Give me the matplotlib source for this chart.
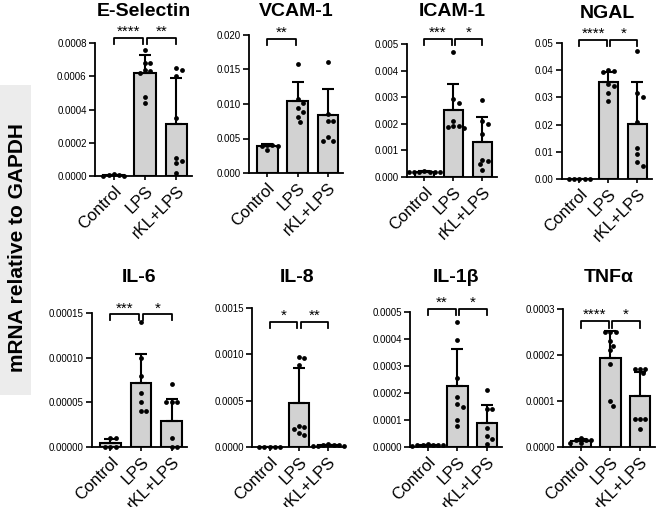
import numpy as np
import matplotlib
matplotlib.use('Agg')
import matplotlib.pyplot as plt
from matplotlib.patches import Rectangle
from matplotlib.ticker import FormatStrFormatter

plt.rcParams['font.family'] = ['Liberation Sans', 'DejaVu Sans']

groups = ['Control', 'LPS', 'rKL+LPS']

# ---- data (mean, SD, single replicates) ----
esel_mean = [0.000005, 0.00062, 0.000315]
esel_sd = [0.000003, 0.000106, 0.000276]
esel_pts = [[0.000010, 0.000005, 0.000003, 0.000002, 0.000004],
            [0.00076, 0.00068, 0.00068, 0.00064, 0.00063, 0.00062, 0.000475, 0.00044],
            [0.00065, 0.00064, 0.0006, 0.00035, 0.00011, 0.00009, 0.00008, 0.00002]]

vcam_mean = [0.00386, 0.01046, 0.00834]
vcam_sd = [0.0003, 0.0027, 0.0039]
vcam_pts = [[0.0041, 0.0040, 0.0039, 0.0039, 0.0033],
            [0.0158, 0.0107, 0.0101, 0.0094, 0.0088, 0.0081, 0.0074],
            [0.0161, 0.0086, 0.0075, 0.0075, 0.0052, 0.0046, 0.0046]]

icam_mean = [0.00019, 0.00252, 0.0013]
icam_sd = [0.00002, 0.00097, 0.00097]
icam_pts = [[0.00021, 0.0002, 0.0002, 0.0002, 0.00019, 0.00018, 0.00017],
            [0.0047, 0.00295, 0.0028, 0.0021, 0.0019, 0.0019, 0.00188, 0.00185],
            [0.0029, 0.0021, 0.0020, 0.0016, 0.00065, 0.0006, 0.00048, 0.00025]]

ngal_mean = [0.0001, 0.0355, 0.0203]
ngal_sd = [0.00005, 0.0037, 0.0152]
ngal_pts = [[0.0001, 0.0001, 0.0001, 0.0001, 0.0001],
            [0.0402, 0.0396, 0.0394, 0.0348, 0.0342, 0.0318, 0.0285],
            [0.0469, 0.0316, 0.0301, 0.0211, 0.0113, 0.0092, 0.0064, 0.0049]]

il6_mean = [0.0000045, 0.0000716, 0.0000295]
il6_sd = [0.000004, 0.000033, 0.0000245]
il6_pts = [[0.00001, 0.00001, 0.0, 0.0, 0.0],
           [0.00014, 0.0001, 0.00008, 0.00006, 0.00005, 0.00004, 0.00004],
           [0.00007, 0.00005, 0.00005, 0.00005, 0.00001, 0.0, 0.0]]

il8_mean = [0.000002, 0.00047, 0.000018]
il8_sd = [0.000001, 0.00038, 0.000008]
il8_pts = [[0.0, 0.0, 0.0, 0.0, 0.0],
           [0.00097, 0.00096, 0.00089, 0.00023, 0.00022, 0.00019, 0.00015, 0.00013],
           [0.00003, 0.00002, 0.00002, 0.000015, 0.00001, 0.00001, 0.00002]]

il1b_mean = [0.000006, 0.000227, 0.00009]
il1b_sd = [0.000002, 0.000137, 0.000065]
il1b_pts = [[0.00001, 0.000008, 0.000008, 0.000007, 0.000007, 0.000006, 0.000005],
            [0.000464, 0.000396, 0.000254, 0.000186, 0.00016, 0.00015, 0.0001, 0.000078],
            [0.00021, 0.00014, 0.00014, 0.00007, 0.00004, 0.00003, 0.00001]]

tnf_mean = [0.000013, 0.000193, 0.000111]
tnf_sd = [0.000005, 0.00006, 0.000051]
tnf_pts = [[0.00002, 0.000015, 0.000015, 0.000015, 0.000008, 0.000008],
           [0.00025, 0.00025, 0.00025, 0.00023, 0.00022, 0.00021, 0.00018, 0.0001, 0.00009],
           [0.00017, 0.00017, 0.00017, 0.00016, 0.00006, 0.00006, 0.00006, 0.00004]]

titles = ['E-Selectin', 'VCAM-1', 'ICAM-1', 'NGAL', 'IL-6', 'IL-8', 'IL-1β', 'TNFα']
y_max = [0.0008, 0.020, 0.005, 0.05, 0.00015, 0.0015, 0.0005, 0.0003]
y_step = [0.0002, 0.005, 0.001, 0.01, 0.00005, 0.0005, 0.0001, 0.0001]
y_fmt = ['%.4f', '%.3f', '%.3f', '%.2f', '%.5f', '%.4f', '%.4f', '%.4f']
stars = [[(0, 1, '****'), (1, 2, '**')],
         [(0, 1, '**')],
         [(0, 1, '***'), (1, 2, '*')],
         [(0, 1, '****'), (1, 2, '*')],
         [(0, 1, '***'), (1, 2, '*')],
         [(0, 1, '*'), (1, 2, '**')],
         [(0, 1, '**'), (1, 2, '*')],
         [(0, 1, '****'), (1, 2, '*')]]

means = [esel_mean, vcam_mean, icam_mean, ngal_mean, il6_mean, il8_mean, il1b_mean, tnf_mean]
sds = [esel_sd, vcam_sd, icam_sd, ngal_sd, il6_sd, il8_sd, il1b_sd, tnf_sd]
points = [esel_pts, vcam_pts, icam_pts, ngal_pts, il6_pts, il8_pts, il1b_pts, tnf_pts]

# ---- layout (pixel boxes: left, bottom, right, top) ----
W, H = 666, 507
boxes = [(95, 176, 192, 43), (249, 173, 343, 35), (407, 177, 497, 44), (562, 179, 652, 43),
         (92, 447, 187, 313), (252, 447, 343, 308), (410, 447, 502, 312), (563, 447, 655, 309)]
bracket_level = [1.04, 0.97, 1.04, 1.02, 0.99, 0.90, 1.02, 0.91]
title_y = [12, 12, 12, 13, 278, 278, 278, 278]
x_lim = (-0.6, 2.5)
dot_d = 5.2  # spacing used to spread the dots sideways, px


def swarm(vals, px_x, px_y):
    # simple beeswarm: put each dot as near the centre as it can go without overlap
    placed = []
    offs = np.zeros(len(vals))
    order = np.argsort(vals)[::-1]
    cand = [0]
    for k in range(1, 10):
        cand += [k * 0.5, -k * 0.5]
    for idx in order:
        yp = vals[idx] * px_y
        for c in cand:
            xp = c * dot_d
            if all((xp - a) ** 2 + (yp - b) ** 2 >= (dot_d * 0.95) ** 2 for a, b in placed):
                break
        placed.append((xp, yp))
        offs[idx] = xp / px_x
    return offs


fig = plt.figure(figsize=(W / 100, H / 100), dpi=100)
fig.patches.append(Rectangle((0, 1 - 395 / H), 31 / W, 310 / H, transform=fig.transFigure,
                             facecolor='#ececec', edgecolor='none', zorder=0))
fig.text(18 / W, 1 - 248 / H, 'mRNA relative to GAPDH', rotation=90, ha='center', va='center',
         fontsize=15, fontweight='bold')

for p in range(8):
    l, b, r, t = boxes[p]
    ax = fig.add_axes([l / W, 1 - b / H, (r - l) / W, (b - t) / H])
    x = np.arange(3)
    ymax = y_max[p]
    ax.bar(x, means[p], width=0.68, color='#d2d2d2', edgecolor='k', linewidth=1.5, zorder=1)
    ax.errorbar(x, means[p], yerr=[np.zeros(3), sds[p]], fmt='none', ecolor='k',
                elinewidth=1.5, capsize=4, capthick=1.5, zorder=2)
    px_x = (r - l) / (x_lim[1] - x_lim[0])
    px_y = (b - t) / ymax
    for g in range(3):
        vals = np.array(points[p][g])
        offs = swarm(vals, px_x, px_y)
        ax.scatter(g + offs, vals, s=12, color='k', zorder=3, clip_on=False, linewidths=0)

    ax.set_xlim(x_lim)
    ax.set_ylim(0, ymax)
    ax.set_yticks(np.arange(0, ymax + y_step[p] / 2, y_step[p]))
    ax.yaxis.set_major_formatter(FormatStrFormatter(y_fmt[p]))
    ax.set_xticks(x)
    ax.set_xticklabels(groups, rotation=45, ha='right', va='top', rotation_mode='anchor', fontsize=12)
    ax.tick_params(axis='y', labelsize=7, length=4, width=1.2, pad=2)
    ax.tick_params(axis='x', length=3, width=1.2, pad=2)
    for s in ['top', 'right']:
        ax.spines[s].set_visible(False)
    for s in ['left', 'bottom']:
        ax.spines[s].set_linewidth(1.3)

    yb = ymax * bracket_level[p]
    drop = ymax * 0.045
    for i, j, txt in stars[p]:
        x0 = i + 0.06 if i == 1 else i
        x1 = j - 0.06 if j == 1 else j
        ax.plot([x0, x0, x1, x1], [yb - drop, yb, yb, yb - drop], color='k', lw=1.3,
                clip_on=False, zorder=4)
        ax.text((x0 + x1) / 2, yb + ymax * 0.045, txt, ha='center', va='center', fontsize=11)

    fig.text((l + r) / 2 / W, 1 - title_y[p] / H, titles[p], ha='center', va='center',
             fontsize=14, fontweight='bold')

fig.savefig('out.png', dpi=100)
